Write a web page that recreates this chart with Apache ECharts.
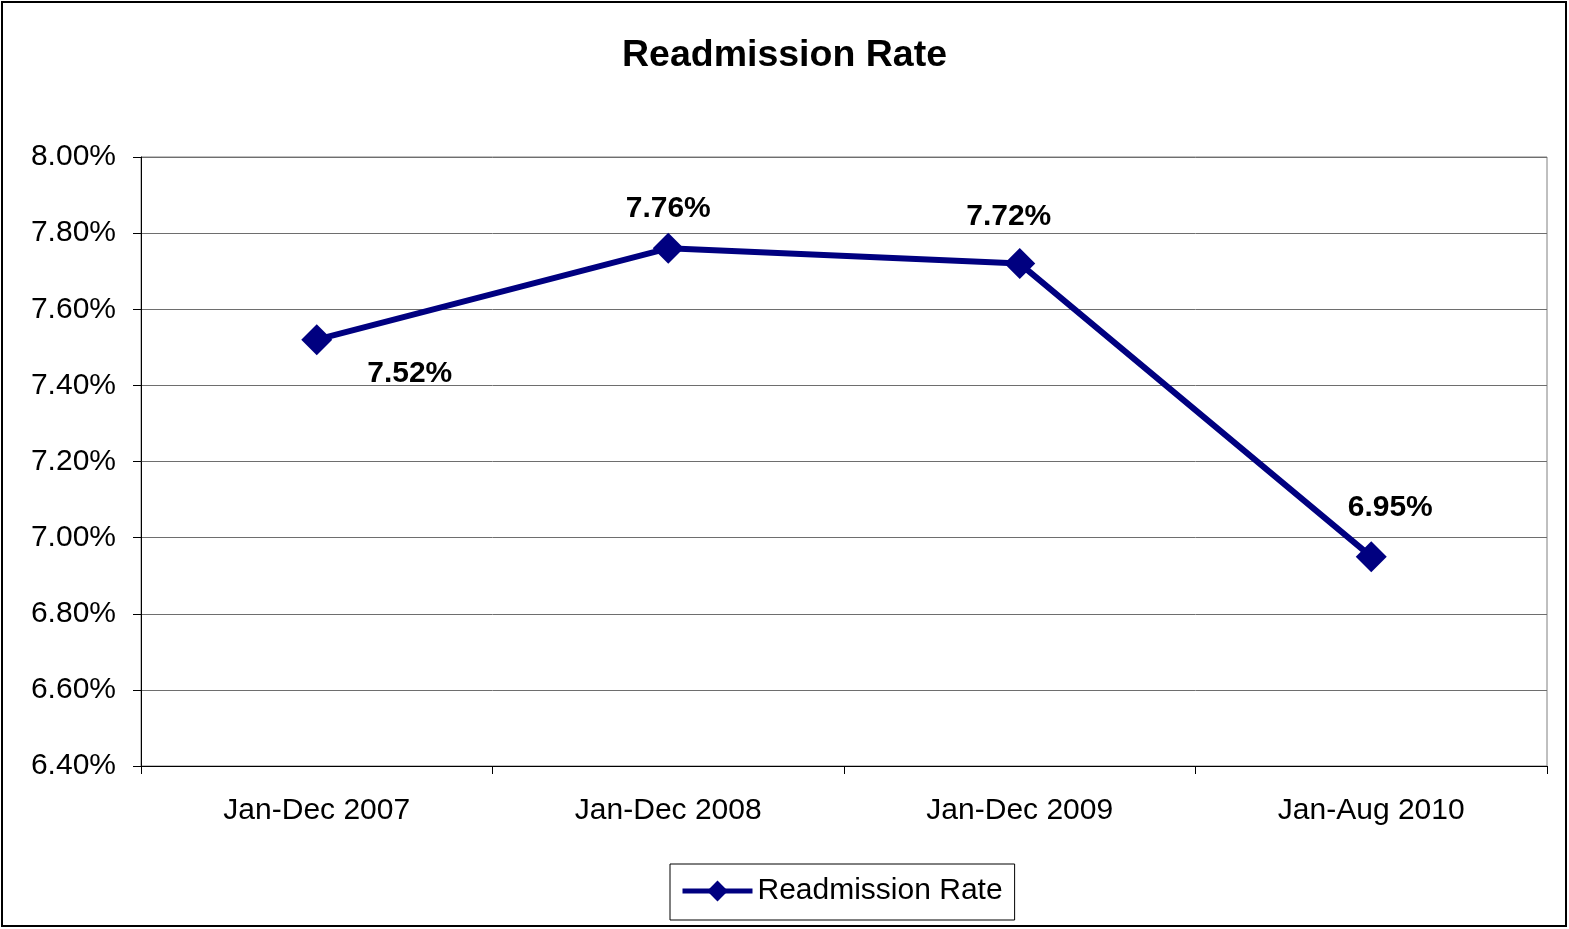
<!DOCTYPE html>
<html>
<head>
<meta charset="utf-8">
<script src="https://cdn.jsdelivr.net/npm/echarts@6/dist/echarts.min.js"></script>
<style>
html,body{margin:0;padding:0;background:#fff;}
#chart{width:1569px;height:929px;}
</style>
</head>
<body>
<div id="chart"></div>
<script>
const categories = ['Jan-Dec 2007', 'Jan-Dec 2008', 'Jan-Dec 2009', 'Jan-Aug 2010'];
const readmissionRate = [7.52, 7.76, 7.72, 6.95];
const seriesName = 'Readmission Rate';
const chartTitle = 'Readmission Rate';

const labelOffsets = [[93, 34], [0, -40], [-11, -47], [19, -49]];
const FONT = '"Liberation Sans", Arial, sans-serif';

const chart = echarts.init(document.getElementById('chart'));
chart.setOption({
  animation: false,
  backgroundColor: '#fff',
  title: {
    text: chartTitle,
    left: 'center',
    top: 32,
    textStyle: {fontFamily: FONT, fontSize: 37.5, fontWeight: 'bold', color: '#000'}
  },
  graphic: [{
    type: 'rect',
    shape: {x: 2, y: 2, width: 1564, height: 924},
    style: {fill: 'none', stroke: '#000', lineWidth: 2},
    silent: true
  }],
  legend: {
    data: [seriesName],
    left: 670,
    top: 864,
    padding: [12, 12, 14, 10],
    itemWidth: 70,
    itemHeight: 26,
    itemGap: 5,
    borderColor: '#000',
    borderWidth: 1,
    lineStyle: {width: 5},
    textStyle: {fontFamily: FONT, fontSize: 30, color: '#000', padding: [0, 0, 0, 0]}
  },
  grid: {
    left: 141, top: 157, width: 1406, height: 609,
    show: true, borderColor: '#808080', borderWidth: 1,
    containLabel: false
  },
  xAxis: {
    type: 'category',
    data: categories,
    boundaryGap: true,
    axisLine: {lineStyle: {color: '#000', width: 1}},
    axisTick: {show: true, length: 8, alignWithLabel: false, lineStyle: {color: '#000'}},
    axisLabel: {fontFamily: FONT, fontSize: 30, color: '#000', margin: 30},
    splitLine: {show: false}
  },
  yAxis: {
    type: 'value',
    min: 6.4, max: 8.0, interval: 0.2,
    axisLine: {show: true, lineStyle: {color: '#000', width: 1}},
    axisTick: {show: true, length: 8, lineStyle: {color: '#000'}},
    axisLabel: {fontFamily: FONT, fontSize: 30, color: '#000', margin: 25,
      formatter: v => v.toFixed(2) + '%'},
    splitLine: {show: true, lineStyle: {color: '#6e6e6e', width: 1}}
  },
  series: [{
    name: seriesName,
    type: 'line',
    data: readmissionRate.map((v, i) => ({
      value: v,
      label: {offset: labelOffsets[i]}
    })),
    symbol: 'diamond',
    symbolSize: 31,
    lineStyle: {color: '#000080', width: 6},
    itemStyle: {color: '#000080'},
    label: {
      show: true,
      position: 'inside',
      fontFamily: FONT, fontSize: 30, fontWeight: 'bold', color: '#000',
      formatter: p => p.value.toFixed(2) + '%'
    }
  }]
});
</script>
</body>
</html>
